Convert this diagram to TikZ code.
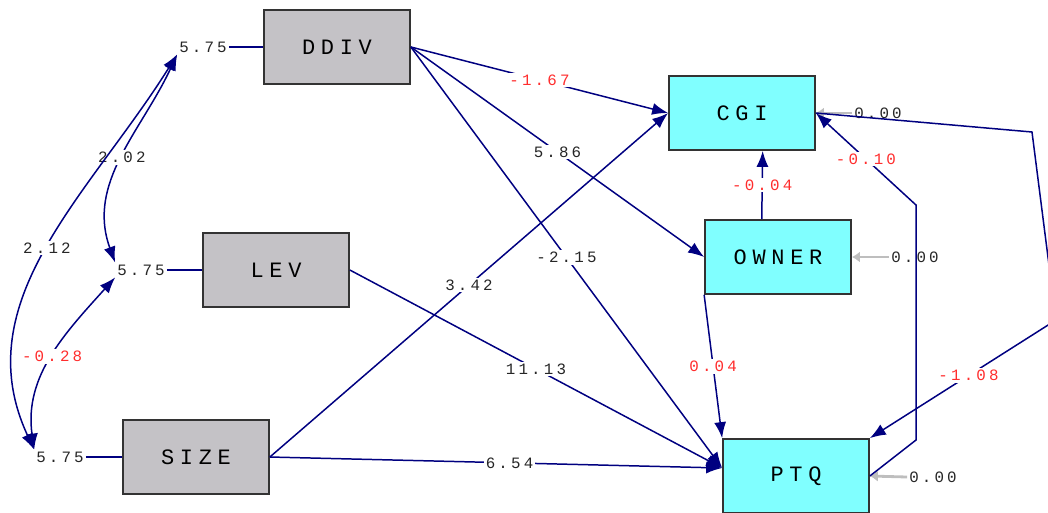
\documentclass[tikz,border=0pt]{standalone}
\usepackage{fontspec}
\usepackage{tikz}
\usetikzlibrary{arrows.meta,calc}
\newfontfamily\boxfont[LetterSpace=26]{Liberation Mono}
\newfontfamily\valfont[LetterSpace=20]{Liberation Mono}
\definecolor{pathblue}{RGB}{0,0,128}
\definecolor{obsgray}{RGB}{196,194,198}
\definecolor{endocyan}{RGB}{128,255,255}
\definecolor{errgray}{RGB}{190,190,190}
\definecolor{negred}{RGB}{255,45,45}
\tikzset{%
  >={Latex[width=2.4mm,length=3.2mm]},
  base/.style = {rectangle, draw=black!80, line width=1pt,
      minimum width=2.92cm, minimum height=1.48cm, inner sep=0pt,
      text centered, font=\boxfont\fontsize{12.5}{12.5}\selectfont},
  exogen/.style = {base, fill=obsgray},
  endogen/.style = {base, fill=endocyan},
  value/.style = {fill=white, inner sep=1pt, text=black!85,
      font=\valfont\fontsize{9}{9}\selectfont},
  negvalue/.style = {value, text=negred},
  errvalue/.style = {value, fill=none},
  link/.style = {draw=pathblue, line width=0.85pt},
  errarrow/.style = {draw=errgray, line width=1.6pt,
      -{Latex[width=2.2mm,length=1.6mm]}},
}

\begin{document}
\begin{tikzpicture}[x=0.02cm, y=-0.02cm]
  \useasboundingbox (0,0) rectangle (1048,512);
  \clip (0,0) rectangle (1048,512);
  % Specification of the observed variables
  \node (ddiv)  [exogen]  at (337,47)  {DDIV};
  \node (lev)   [exogen]  at (276,270) {LEV};
  \node (size)  [exogen]  at (196,457) {SIZE};
  \node (cgi)   [endogen] at (742,113) {CGI};
  \node (owner) [endogen] at (778,257) {OWNER};
  \node (ptq)   [endogen] at (796,476) {PTQ};
  \coordinate (ptqIn) at ($(ptq.west)+(0,-8)$);

  % variances of DDIV, LEV and SIZE
  \node (varDdiv) [value] at (203,47)  {5.75};
  \node (varLev)  [value] at (141,270) {5.75};
  \node (varSize) [value] at (60,457)  {5.75};
  \draw[link]  (varDdiv) -- (ddiv);
  \draw[link]   (varLev) -- (lev);
  \draw[link]  (varSize) -- (size);

  % error terms
  \node (errCgi)   [errvalue] at (878,113) {0.00};
  \node (errOwner) [errvalue] at (915,257) {0.00};
  \node (errPtq)   [errvalue] at (933,477) {0.00};
  \draw[errarrow]   (errCgi.west) -- (cgi.east);
  \draw[errarrow] (errOwner.west) -- (owner.east);
  \draw[errarrow]   (errPtq.west) -- (ptq.east);

  % covariances
  \draw[link, <->] (varDdiv.south west) to[out=245, in=110]
                   node[value] {2.02} (varLev.north west);
  \draw[link, <->] (varDdiv.south west) to[out=238, in=115]
                   node[value] {2.12} (varSize.north west);
  \draw[link, <->]  (varLev.south west) to[out=228, in=98]
                   node[negvalue] {-0.28} (varSize.north west);

  % paths with their estimates
  \draw[link, ->]  (ddiv.east) -- node[negvalue] {-1.67} (cgi.west);
  \draw[link, ->]  (ddiv.east) -- node[value] {5.86} (owner.west);
  \draw[link, ->]  (ddiv.east) -- node[value] {-2.15} (ptqIn);
  \draw[link, ->]   (lev.east) -- node[value] {11.13} (ptqIn);
  \draw[link, ->]  (size.east) -- node[value] {3.42} (cgi.west);
  \draw[link, ->]  (size.east) -- node[value, pos=0.53] {6.54} (ptqIn);
  \draw[link, ->] ($(owner.north west)!0.39!(owner.north east)$) --
                   node[negvalue] {-0.04}
                   ($(cgi.south west)!0.64!(cgi.south east)$);
  \draw[link, ->] (owner.south west) -- node[negvalue] {0.04} (ptq.north west);

  % feedback between CGI and PTQ
  \coordinate (bendLow)   at (916,440);
  \coordinate (bendHigh)  at (916,205);
  \coordinate (bendTop)   at (1032,132);
  \coordinate (bendRight) at (1056,320);
  \draw[link, ->] (ptq.east) -- (bendLow) -- (bendHigh) --
                   node[negvalue] {-0.10} (cgi.east);
  \draw[link, ->] (cgi.east) -- (bendTop) -- (bendRight) --
                   node[negvalue, pos=0.47] {-1.08} (ptq.north east);
\end{tikzpicture}
\end{document}
